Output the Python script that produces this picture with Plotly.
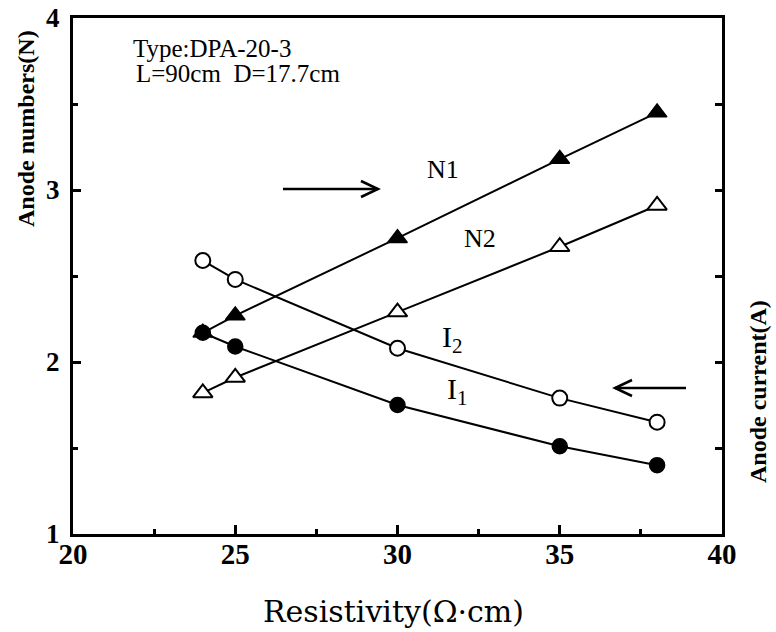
import plotly.graph_objects as go

# ---- data ----
resistivity = [24, 25, 30, 35, 38]
n1 = [2.17, 2.27, 2.72, 3.18, 3.45]
n2 = [1.82, 1.91, 2.29, 2.67, 2.91]
i2 = [2.59, 2.48, 2.08, 1.79, 1.65]
i1 = [2.17, 2.09, 1.75, 1.51, 1.40]
x_ticks = [20, 25, 30, 35, 40]
y_ticks = [1, 2, 3, 4]

W, H = 776, 632
L, R, T, B = 73, 722, 18, 534  # plot area in pixels


def px(xp):
    return (xp - L) / (R - L)


def py(yp):
    return (B - yp) / (B - T)


SERIF = "Liberation Serif"

fig = go.Figure()

line_style = dict(color="black", width=2)

fig.add_trace(go.Scatter(x=resistivity, y=i1, mode="lines+markers", yaxis="y2",
                         line=line_style,
                         marker=dict(symbol="circle", size=15, color="black",
                                     line=dict(color="black", width=1.5)),
                         name="I1", showlegend=False))
fig.add_trace(go.Scatter(x=resistivity, y=i2, mode="lines+markers", yaxis="y2",
                         line=line_style,
                         marker=dict(symbol="circle", size=15, color="white",
                                     line=dict(color="black", width=2)),
                         name="I2", showlegend=False))
fig.add_trace(go.Scatter(x=resistivity, y=n2, mode="lines+markers",
                         line=line_style,
                         marker=dict(symbol="triangle-up", size=17, color="white",
                                     line=dict(color="black", width=2)),
                         name="N2", showlegend=False))
fig.add_trace(go.Scatter(x=resistivity, y=n1, mode="lines+markers",
                         line=line_style,
                         marker=dict(symbol="triangle-up", size=17, color="black",
                                     line=dict(color="black", width=1.5)),
                         name="N1", showlegend=False))

xtickfont = dict(family=SERIF, size=29, color="black")
ytickfont = dict(family=SERIF, size=27, color="black")

fig.update_layout(
    width=W, height=H,
    margin=dict(l=L, r=W - R, t=T, b=H - B, autoexpand=False),
    paper_bgcolor="white", plot_bgcolor="white",
    xaxis=dict(range=[20, 40], tickvals=x_ticks,
               ticktext=[f"<b>{v}</b>" for v in x_ticks],
               ticks="inside", ticklen=9, tickwidth=2.5, tickcolor="black",
               minor=dict(tickvals=[22.5, 27.5, 32.5, 37.5], ticks="inside",
                          ticklen=5, tickwidth=2.5, tickcolor="black"),
               showline=True, linewidth=3, linecolor="black", mirror=True,
               showgrid=False, zeroline=False, automargin=False,
               ticklabeloverflow="allow",
               tickfont=xtickfont, ticklabelstandoff=-8),
    yaxis=dict(range=[1, 4], tickvals=y_ticks,
               ticktext=[f"<b>{v}</b>" for v in y_ticks],
               ticks="inside", ticklen=8, tickwidth=2.5, tickcolor="black",
               minor=dict(tickvals=[1.5, 2.5, 3.5], ticks="inside",
                          ticklen=5, tickwidth=2.5, tickcolor="black"),
               showline=True, linewidth=3, linecolor="black", mirror=True,
               showgrid=False, zeroline=False, automargin=False,
               ticklabeloverflow="allow",
               tickfont=ytickfont, ticklabelstandoff=5),
    yaxis2=dict(range=[1, 4], overlaying="y", side="right",
                tickvals=[1.5, 2, 2.5, 3, 3.5], ticks="inside", ticklen=7,
                tickwidth=2.5, tickcolor="black", showticklabels=False,
                showline=False, showgrid=False, zeroline=False, automargin=False),
)

annots = [
    dict(text="<b>Anode numbers(N)</b>", x=px(26), y=py(129), textangle=-90,
         font=dict(family=SERIF, size=24)),
    dict(text="<b>Anode current(A)</b>", x=px(758), y=py(392), textangle=-90,
         font=dict(family=SERIF, size=24)),
    dict(text="Resistivity(Ω·cm)", x=px(393), y=py(611),
         font=dict(family="DejaVu Serif", size=30)),
    dict(text="Type:DPA-20-3", x=px(131), y=py(48), xanchor="left",
         font=dict(family=SERIF, size=25)),
    dict(text="L=90cm  D=17.7cm", x=px(134), y=py(74), xanchor="left",
         font=dict(family=SERIF, size=25)),
    dict(text="N1", x=px(443), y=py(170), font=dict(family=SERIF, size=26)),
    dict(text="N2", x=px(480), y=py(238), font=dict(family=SERIF, size=26)),
    dict(text="I<sub>2</sub>", x=px(452), y=py(339), font=dict(family=SERIF, size=30)),
    dict(text="I<sub>1</sub>", x=px(457), y=py(391), font=dict(family=SERIF, size=30)),
]
for a in annots:
    a.update(xref="paper", yref="paper", showarrow=False)
    a.setdefault("xanchor", "center")
    a["yanchor"] = "middle"
    a["font"]["color"] = "black"
fig.update_layout(annotations=annots)


def path(points):
    return "M " + " L ".join(f"{px(a)},{py(b)}" for a, b in points)


arrow_line = dict(color="black", width=2.5)
shapes = [
    dict(type="path", path=path([(283, 189), (378, 189)])),
    dict(type="path", path=path([(361, 181), (378, 189), (361, 197)])),
    dict(type="path", path=path([(686, 388), (615, 388)])),
    dict(type="path", path=path([(632, 380), (615, 388), (632, 396)])),
]
for s in shapes:
    s.update(xref="paper", yref="paper", line=arrow_line)
fig.update_layout(shapes=shapes)

fig.write_html("out.html")
